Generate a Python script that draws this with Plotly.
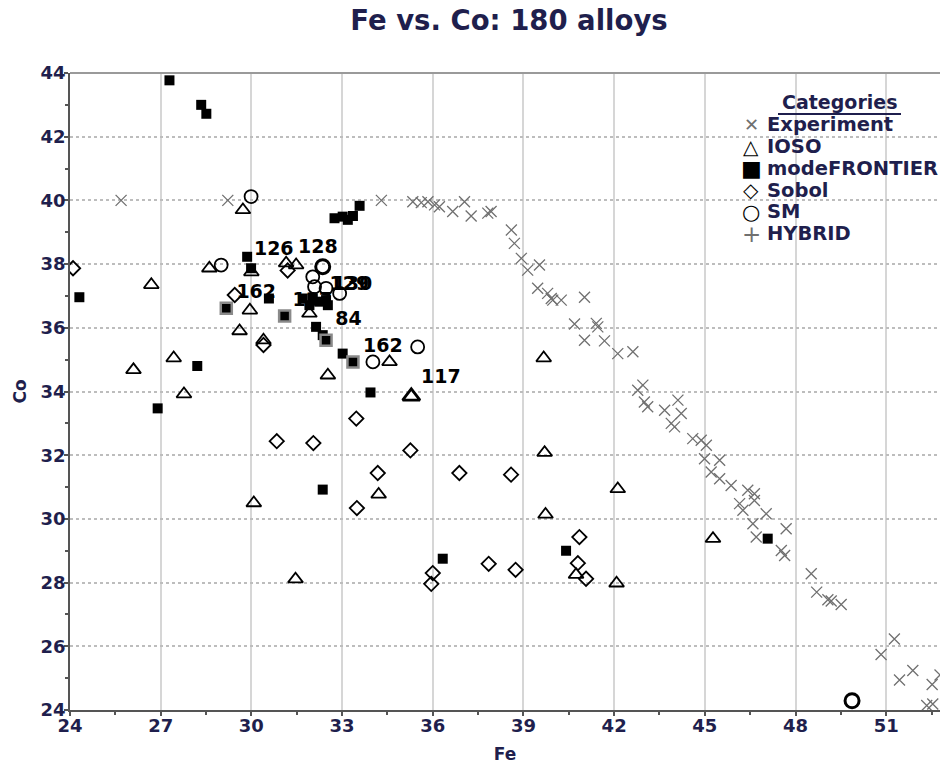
import plotly.graph_objects as go

# ---------------- data (Fe, Co) ----------------
exp_fe = [25.69, 29.22, 34.30, 35.34, 35.62, 35.84, 36.06, 36.22, 36.66, 37.05, 37.27, 37.82, 37.93,
          38.60, 38.70, 38.93, 39.14, 39.53, 39.47, 39.80, 39.92, 39.97, 40.25, 41.02, 40.69, 41.02,
          41.41, 41.46, 41.68, 42.12, 42.62, 42.78, 42.95, 43.00, 43.11, 43.67, 44.11, 44.22, 43.89,
          44.00, 44.60, 44.88, 45.05, 44.99, 45.49, 45.21, 45.49, 45.87, 46.42, 46.64, 46.64, 46.15,
          46.26, 47.03, 46.59, 46.70, 47.69, 47.53, 47.64, 48.52, 48.70, 49.07, 49.18, 49.51, 51.27,
          50.83, 51.44, 51.88, 52.52, 52.34, 52.54, 52.78]
exp_co = [40.00, 40.00, 40.00, 39.96, 39.93, 39.96, 39.86, 39.80, 39.65, 39.96, 39.51, 39.60, 39.65,
          39.07, 38.65, 38.18, 37.81, 37.97, 37.24, 37.08, 36.92, 36.87, 36.87, 36.96, 36.12, 35.61,
          36.14, 36.03, 35.59, 35.19, 35.25, 34.04, 34.20, 33.67, 33.52, 33.41, 33.73, 33.31, 33.00,
          32.89, 32.52, 32.47, 32.31, 31.89, 31.84, 31.47, 31.26, 31.05, 30.90, 30.79, 30.58, 30.48,
          30.27, 30.16, 29.85, 29.43, 29.69, 29.01, 28.85, 28.28, 27.70, 27.46, 27.42, 27.31, 26.23,
          25.74, 24.94, 25.24, 24.80, 24.14, 24.19, 25.10]

ioso_fe = [29.72, 26.69, 28.61, 31.15, 31.48, 29.95, 31.92, 29.61, 30.40, 32.53, 34.57, 26.10,
           27.43, 27.77, 30.08, 31.46, 34.21, 39.67, 39.70, 39.73, 40.74, 42.08, 42.12, 45.27, 30.00]
ioso_co = [39.70, 37.35, 37.87, 38.03, 37.97, 36.55, 36.45, 35.90, 35.61, 34.51, 34.93, 34.68,
           35.05, 33.92, 30.50, 28.11, 30.77, 35.05, 32.08, 30.14, 28.25, 27.98, 30.94, 29.38, 37.75]
ioso_hi_fe = [35.29]
ioso_hi_co = [33.85]

mf_fe = [27.29, 28.34, 28.51, 24.31, 33.58, 32.75, 33.02, 33.19, 33.36, 29.86, 29.99, 30.58,
         31.70, 32.03, 32.25, 32.47, 31.92, 32.53, 32.14, 32.36, 33.02, 33.94, 28.21, 26.90,
         32.36, 36.33, 40.41, 47.08]
mf_co = [43.77, 43.00, 42.72, 36.96, 39.83, 39.44, 39.49, 39.39, 39.51, 38.23, 37.87, 36.92,
         36.92, 36.92, 36.82, 36.87, 36.71, 36.71, 36.03, 35.77, 35.19, 33.97, 34.80, 33.47,
         30.92, 28.75, 29.00, 29.38]
mf_hi_fe = [29.17, 31.10, 33.36, 32.47]
mf_hi_co = [36.61, 36.37, 34.93, 35.61]

sobol_fe = [24.10, 29.45, 31.20, 30.40, 30.84, 32.05, 33.47, 35.26, 34.18, 36.88, 38.59, 33.49,
            36.00, 35.95, 37.85, 38.74, 40.85, 40.80, 41.07]
sobol_co = [37.87, 37.03, 37.80, 35.46, 32.44, 32.38, 33.15, 32.15, 31.44, 31.44, 31.39, 30.34,
            28.30, 27.96, 28.59, 28.40, 29.43, 28.61, 28.12]

sm_fe = [29.99, 29.00, 32.03, 32.09, 32.47, 32.92, 35.50, 34.02]
sm_co = [40.12, 37.97, 37.60, 37.29, 37.24, 37.08, 35.40, 34.93]
sm_hi_fe = [32.36, 49.87]
sm_hi_co = [37.92, 24.29]

hybrid_fe = []
hybrid_co = []

label_text = ["126", "128", "129", "130", "162", "137", "84", "162", "117"]
label_fe = [30.74, 32.20, 33.24, 33.34, 30.16, 32.02, 33.21, 34.35, 36.27]
label_co = [38.44, 38.50, 37.34, 37.34, 37.08, 36.82, 36.24, 35.40, 34.43]

legend_names = ["Experiment", "IOSO", "modeFRONTIER", "Sobol", "SM", "HYBRID"]
legend_glyphs = ["✕", "△", "■", "◇", "○", "+"]

x_ticks = [24, 27, 30, 33, 36, 39, 42, 45, 48, 51]
y_ticks = [24, 26, 28, 30, 32, 34, 36, 38, 40, 42, 44]

# ---------------- styling ----------------
NAVY = "#1f1f4d"
FONT = "DejaVu Sans"
W, H = 940, 767
ML, MR, MT, MB = 70, 0, 73, 57
PX_PER_FE = 30.23
x_max = 24 + (W - ML - MR) / PX_PER_FE

fig = go.Figure()

# labels drawn first so markers sit on top
fig.add_trace(go.Scatter(x=label_fe, y=label_co, text=label_text, mode="text",
                         textfont=dict(family=FONT, size=19, color="black", weight="bold"),
                         showlegend=False, hoverinfo="skip"))

fig.add_trace(go.Scatter(x=exp_fe, y=exp_co, mode="markers", name="Experiment", showlegend=False,
                         marker=dict(symbol="x-thin", size=11, color="#707070",
                                     line=dict(width=1.3, color="#707070"))))
fig.add_trace(go.Scatter(x=ioso_fe, y=ioso_co, mode="markers", name="IOSO", showlegend=False,
                         marker=dict(symbol="triangle-up-open", size=13, color="black",
                                     line=dict(width=1.8))))
fig.add_trace(go.Scatter(x=ioso_hi_fe, y=ioso_hi_co, mode="markers", name="IOSO", showlegend=False,
                         marker=dict(symbol="triangle-up-open", size=15, color="black",
                                     line=dict(width=2.8))))
fig.add_trace(go.Scatter(x=mf_fe, y=mf_co, mode="markers", name="modeFRONTIER", showlegend=False,
                         marker=dict(symbol="square", size=10, color="black",
                                     line=dict(width=0))))
fig.add_trace(go.Scatter(x=mf_hi_fe, y=mf_hi_co, mode="markers", name="modeFRONTIER", showlegend=False,
                         marker=dict(symbol="square", size=11, color="black",
                                     line=dict(width=2.5, color="#8a8a8a"))))
fig.add_trace(go.Scatter(x=sobol_fe, y=sobol_co, mode="markers", name="Sobol", showlegend=False,
                         marker=dict(symbol="diamond-open", size=11, color="black",
                                     line=dict(width=1.8))))
fig.add_trace(go.Scatter(x=sm_fe, y=sm_co, mode="markers", name="SM", showlegend=False,
                         marker=dict(symbol="circle-open", size=13, color="black",
                                     line=dict(width=1.8))))
fig.add_trace(go.Scatter(x=sm_hi_fe, y=sm_hi_co, mode="markers", name="SM", showlegend=False,
                         marker=dict(symbol="circle-open", size=14, color="black",
                                     line=dict(width=3))))
fig.add_trace(go.Scatter(x=hybrid_fe, y=hybrid_co, mode="markers", name="HYBRID", showlegend=False,
                         marker=dict(symbol="cross-thin", size=12, color="#707070",
                                     line=dict(width=1.3, color="#707070"))))

# ---------------- legend built from annotations ----------------
plot_w = W - ML - MR
plot_h = H - MT - MB
def px_x(px):
    return (px - ML) / plot_w
def px_y(py):
    return (H - MB - py) / plot_h

annotations = []
annotations.append(dict(text="<b>Categories</b>", x=px_x(839), y=px_y(102), xref="paper", yref="paper",
                        xanchor="center", yanchor="middle", showarrow=False,
                        font=dict(family=FONT, size=19, color=NAVY)))
glyph_colors = ["#707070", "black", "black", "black", "black", "#707070"]
glyph_sizes = [18, 20, 22, 20, 21, 23]
for i, (name, g) in enumerate(zip(legend_names, legend_glyphs)):
    yy = px_y(125 + 21.7 * i)
    annotations.append(dict(text=g, x=px_x(751), y=yy, xref="paper", yref="paper",
                            xanchor="center", yanchor="middle", showarrow=False,
                            font=dict(family=FONT, size=glyph_sizes[i], color=glyph_colors[i])))
    annotations.append(dict(text="<b>" + name + "</b>", x=px_x(765), y=yy, xref="paper", yref="paper",
                            xanchor="left", yanchor="middle", showarrow=False,
                            font=dict(family=FONT, size=19.5, color=NAVY)))

shapes = [
    dict(type="line", xref="paper", yref="paper", x0=px_x(778), x1=px_x(901), y0=px_y(114), y1=px_y(114),
         line=dict(color=NAVY, width=2)),
    dict(type="line", xref="paper", yref="paper", x0=0, x1=1, y0=1, y1=1,
         line=dict(color="#9a9a9a", width=2)),
]

fig.update_layout(
    width=W, height=H, autosize=False,
    margin=dict(l=ML, r=MR, t=MT, b=MB),
    paper_bgcolor="white", plot_bgcolor="white",
    title=dict(text="<b>Fe vs. Co: 180 alloys</b>", x=509 / W, xref="container", xanchor="center",
               y=1 - 20 / H, yref="container", yanchor="middle",
               font=dict(family=FONT, size=27.5, color=NAVY)),
    annotations=annotations, shapes=shapes,
    showlegend=False,
)

fig.update_xaxes(range=[24, x_max], tickvals=x_ticks, ticktext=[str(v) for v in x_ticks],
                 showgrid=True, gridcolor="#d6d6d6", gridwidth=1.5,
                 showline=True, linecolor="#555555", linewidth=1.5,
                 ticks="outside", ticklen=4, tickcolor="#555555", tickwidth=1.5,
                 minor=dict(dtick=1.5, tick0=24, ticks="outside", ticklen=3, tickcolor="#555555", showgrid=False),
                 tickfont=dict(family=FONT, size=18, color=NAVY, weight="bold"),
                 ticklabelstandoff=-5,
                 title=dict(text="<b>Fe</b>", font=dict(family=FONT, size=17, color=NAVY), standoff=13),
                 zeroline=False)
fig.update_yaxes(range=[24, 44], tickvals=y_ticks, ticktext=[str(v) for v in y_ticks],
                 showgrid=True, gridcolor="#bdbdbd", gridwidth=1.5, griddash="dot",
                 showline=True, linecolor="#555555", linewidth=1.5,
                 ticks="outside", ticklen=4, tickcolor="#555555", tickwidth=1.5,
                 minor=dict(dtick=1, tick0=24, ticks="outside", ticklen=3, tickcolor="#555555", showgrid=False),
                 tickfont=dict(family=FONT, size=18, color=NAVY, weight="bold"),
                 ticklabelstandoff=-5,
                 title=dict(text="<b>Co</b>", font=dict(family=FONT, size=17, color=NAVY), standoff=10),
                 zeroline=False)

fig.write_html("out.html", config={"displayModeBar": False},
               post_script="document.body.style.margin='0';")
